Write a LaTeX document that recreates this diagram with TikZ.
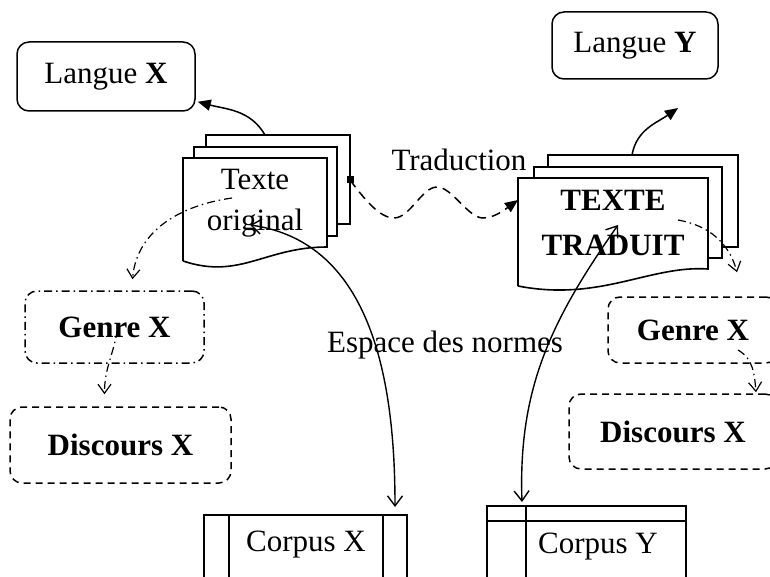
\documentclass[tikz,border=0pt]{standalone}
\usepackage{fontspec}
\setmainfont{Liberation Serif}
\usepackage{tikz}
\usetikzlibrary{arrows.meta, positioning, calc}
\newcommand{\bigfont}{\fontsize{31}{38}\selectfont}
\tikzset{
  basebox/.style={rectangle,rounded corners=12pt,align=center,line width=1.5pt,font=\bigfont},
  langnode/.style={basebox,draw=black},
  genrenode/.style={basebox,draw=black,dash pattern=on 8pt off 4pt on 1.5pt off 4pt},
  discnode/.style={basebox,draw=black,dash pattern=on 7pt off 5pt},
  labelnode/.style={font=\bigfont,align=center,inner sep=0pt},
  marknode/.style={rectangle,fill=black,minimum size=7pt,inner sep=0pt},
  pageline/.style={line width=1.6pt,line join=miter},
  tableline/.style={line width=1.7pt},
  arr/.style={-{Triangle[length=13pt,width=11pt]},line width=1.5pt},
  normarr/.style={{Straight Barb[length=10pt,width=15pt]}-{Straight Barb[length=10pt,width=15pt]},line width=1.4pt},
  dotarr/.style={-{Straight Barb[length=9pt,width=13pt]},line width=1.2pt,dash pattern=on 8pt off 4pt on 1.5pt off 4pt},
  wavearr/.style={-{Triangle[length=13pt,width=11pt]},line width=1.5pt,dash pattern=on 9pt off 6pt}
}

\begin{document}
\begin{tikzpicture}[x=1pt,y=-1pt]
  \path[use as bounding box,clip] (0,0) rectangle (770,577);

  %% Texte original (stack of pages)
  \draw[pageline] (206,147) -- (206,135) -- (350,135) -- (350,224) -- (337,224);
  \draw[pageline] (194,158) -- (194,147) -- (337,147) -- (337,236) -- (327,236);
  \draw[pageline] (183,261) -- (183,158) -- (327,158) -- (327,247)
    .. controls (265,247) and (240,280) .. (183,261);
  \coordinate (origtop) at (265,135);
  \coordinate (origdot) at (232,198);
  \node[marknode] (sq) at (350,180) {};
  \node[labelnode] (orig) at (255,203) {Texte\\[3pt]original};

  %% TEXTE TRADUIT (stack of pages)
  \draw[pageline] (548,167) -- (548,155) -- (738,155) -- (738,247) -- (722,247);
  \draw[pageline] (534,178) -- (534,167) -- (722,167) -- (722,258) -- (708,258);
  \draw[pageline] (518,286) -- (518,178) -- (708,178) -- (708,269)
    .. controls (650,265) and (600,302) .. (518,286);
  \coordinate (tradtop) at (632,155);
  \coordinate (tradside) at (518,200);
  \coordinate (tradmid) at (678,220);
  \node[labelnode,font=\bigfont\bfseries] (trad) at (613,223) {TEXTE\\[7pt]TRADUIT};

  %% Langues
  \node[langnode,minimum width=178pt,minimum height=69pt] (lx) at (106,76.5) {Langue \textbf{X}};
  \node[langnode,minimum width=166pt,minimum height=67pt] (ly) at (635,45.5) {Langue \textbf{Y}};
  \coordinate (tipY) at (678,108);

  %% Genres et discours
  \node[genrenode,minimum width=179pt,minimum height=72pt,font=\bigfont\bfseries] (gxl) at (114.5,327) {Genre X};
  \node[discnode,minimum width=221pt,minimum height=76pt,font=\bigfont\bfseries] (dxl) at (120.5,445) {Discours X};
  \node[discnode,minimum width=170pt,minimum height=66pt,font=\bigfont\bfseries] (gxr) at (693,330) {Genre X};
  \node[discnode,minimum width=208pt,minimum height=75pt,font=\bigfont\bfseries] (dxr) at (673,431.5) {Discours X};

  %% Corpus
  \draw[tableline] (204,600) -- (204,515) -- (407,515) -- (407,600);
  \draw[tableline] (229,515) -- (229,600);
  \draw[tableline] (383,515) -- (383,600);
  \node[labelnode] (cx) at (306,545) {Corpus X};
  \draw[tableline] (487,600) -- (487,506) -- (686,506) -- (686,600);
  \draw[tableline] (487,521) -- (686,521);
  \draw[tableline] (526,506) -- (526,600);
  \node[labelnode] (cy) at (598,547) {Corpus Y};

  %% Labels
  \node[labelnode] (trd) at (459,160) {Traduction};
  \node[labelnode] (esp) at (445,345) {Espace des normes};

  %% Arrows
  \draw[arr] (origtop) to[out=120,in=-15] ([xshift=2pt,yshift=10pt]lx.south east);
  \draw[arr] (tradtop) to[out=80,in=-145] (tipY);
  \draw[wavearr] (sq.center) .. controls (365,200) and (380,218) .. (394,218)
    .. controls (410,218) and (422,187) .. (437,187)
    .. controls (452,187) and (468,218) .. (483,218)
    .. controls (495,218) and (507,208) .. (tradside);
  \draw[dotarr] (origdot) to[out=188,in=85] ([xshift=18pt,yshift=11pt]gxl.north);
  \draw[dotarr] ([xshift=3pt,yshift=-3pt]gxl.center) to[out=-100,in=90] ([xshift=-16pt,yshift=12pt]dxl.north);
  \draw[dotarr] (tradmid) to[out=-10,in=105] ([xshift=44pt,yshift=24pt]gxr.north);
  \draw[dotarr] ([xshift=45pt,yshift=-20pt]gxr.center) to[out=-30,in=95] ([xshift=83pt,yshift=1pt]dxr.north);
  \draw[normarr] ([xshift=-5pt,yshift=-22pt]orig.center) to[out=-8,in=90] (395,507);
  \draw[normarr] ([xshift=5pt,yshift=-2pt]trad.center) to[out=-125,in=92] (522,502);
\end{tikzpicture}
\end{document}
